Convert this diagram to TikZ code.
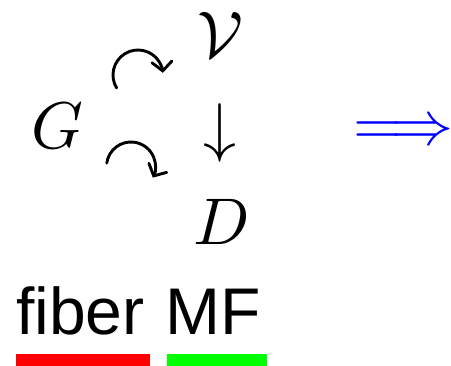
\documentclass[tikz,border=0pt]{standalone}
\usepackage{amssymb}
\usepackage{fontspec}
\usetikzlibrary{arrows.meta}
\newfontfamily\arialfont{Liberation Sans}
\begin{document}
\begin{tikzpicture}[x=1pt,y=-1pt,
  mathlbl/.style={inner sep=0pt,font=\fontsize{10}{12}\selectfont,scale=6.6},
  sanslbl/.style={inner sep=0pt,anchor=base west,font=\arialfont\fontsize{66}{70}\selectfont},
  bar/.style={inner sep=0pt,minimum height=12pt,anchor=north west},
  actarrow/.style={line width=2.9pt,line cap=round,-{Straight Barb[length=9pt,width=20pt,line cap=round]}}]
\useasboundingbox (0,0) rectangle (451,366);
\node[mathlbl] (G) at (57,126) {$G$};
\node[mathlbl] (V) at (220,35) {$\mathcal{V}$};
\node[mathlbl] (D) at (222,222) {$D$};
\node[mathlbl] (down) at (220,133) {$\downarrow$};
\coordinate (c1) at (138,75);
\coordinate (c2) at (131,166.5);
\draw[actarrow] (c1) ++(148.7:25) arc[start angle=148.7,end angle=355,radius=25];
\draw[actarrow] (c2) ++(188:24.5) arc[start angle=188,end angle=387,radius=24.5];
\node[inner sep=0pt,anchor=west,text=blue,font=\fontsize{10}{12}\selectfont,scale=6.2] (imp) at (352,133) {$\Longrightarrow$};
\node[sanslbl] (fiber) at (16,335) {fiber};
\node[sanslbl] (mf) at (165,335) {MF};
\node[bar,fill=red,minimum width=134pt] (rb) at (16,354) {};
\node[bar,fill=green,minimum width=100pt] (gb) at (167,354) {};
\end{tikzpicture}
\end{document}
